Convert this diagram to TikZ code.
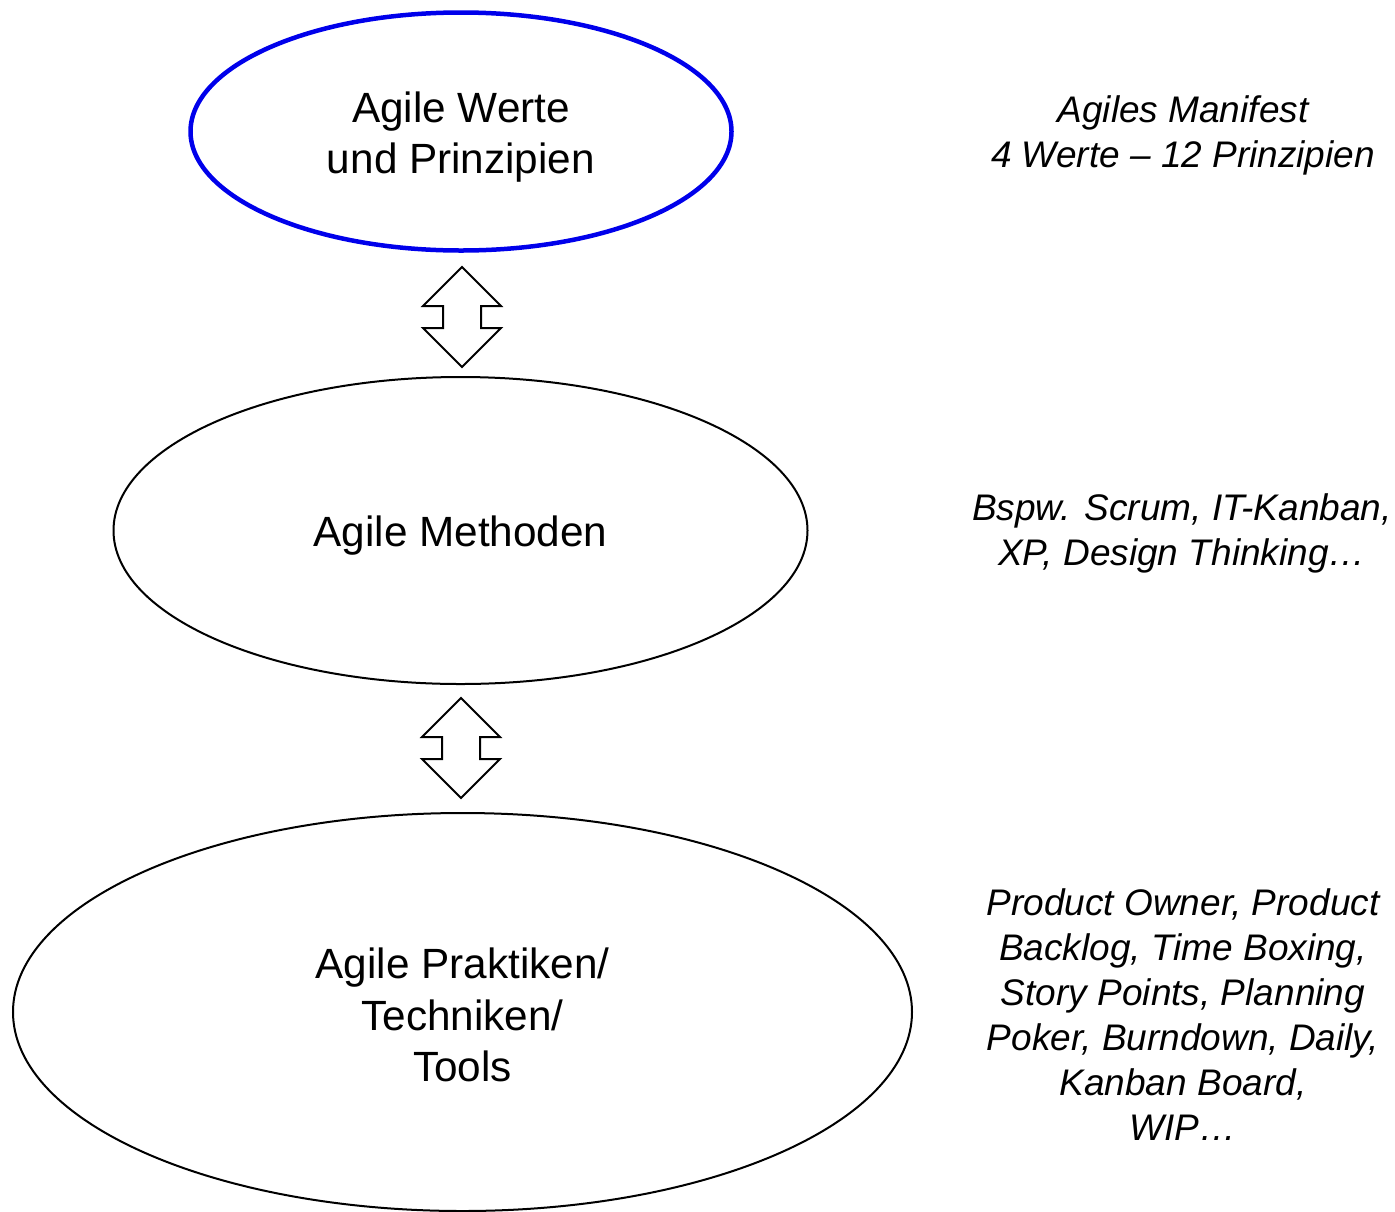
\documentclass[tikz,border=0pt]{standalone}
\usepackage{fontspec}
\setmainfont{Liberation Sans}
\usetikzlibrary{shapes.geometric}
\definecolor{valueblue}{RGB}{0,0,235}
\tikzset{
  level/.style={ellipse, draw=black, line width=2pt, inner sep=0pt},
  leveltext/.style={align=center, inner sep=0pt, font=\fontsize{42.3}{51.5}\selectfont},
  note/.style={align=center, inner sep=0pt, font=\fontsize{37}{45}\selectfont\itshape},
  linkarrow/.style={draw=black, line width=2pt, fill=white, line join=miter},
}
% block double arrow between two levels, drawn around a named coordinate
\newcommand\levellink[1]{%
  \path[linkarrow, shift={(#1)}]
    (0,-50) -- (39,-11) -- (19,-11) -- (19,11) -- (39,11) -- (0,50)
    -- (-39,11) -- (-19,11) -- (-19,-11) -- (-39,-11) -- cycle;}
\begin{document}
\begin{tikzpicture}[x=1pt, y=-1pt]
\useasboundingbox (0,0) rectangle (1395,1211);

% the three levels
\node[level, draw=valueblue, line width=4.5pt, minimum width=541pt, minimum height=238pt]
  (werte) at (461,131.5) {};
\node[level, minimum width=694pt, minimum height=307pt]
  (methoden) at (460.5,530.5) {};
\node[level, minimum width=899pt, minimum height=398pt]
  (praktiken) at (462.5,1012) {};

\node[leveltext] (werte-t) at ([yshift=-5.5pt]werte.center) {Agile Werte\\und Prinzipien};
\node[leveltext] (methoden-t) at ([yshift=-5pt]methoden.center) {Agile Methoden};
\node[leveltext] (praktiken-t) at ([yshift=-3pt]praktiken.center) {Agile Praktiken/\\Techniken/\\Tools};

% links between the levels
\coordinate (l1) at (462,317);
\coordinate (l2) at (461,748);
\levellink{l1}
\levellink{l2}

% notes on the right
\node[note] (n1) at (1183,135.5) {Agiles Manifest\\4 Werte – 12 Prinzipien};
\node[note] (n2) at (1182,533.5) {Bspw. Scrum, IT-Kanban,\\XP, Design Thinking…};
\node[note] (n3) at (1183,1014.5) {Product Owner, Product\\Backlog, Time Boxing,\\Story Points, Planning\\Poker, Burndown, Daily,\\Kanban Board,\\WIP…};
\end{tikzpicture}
\end{document}
